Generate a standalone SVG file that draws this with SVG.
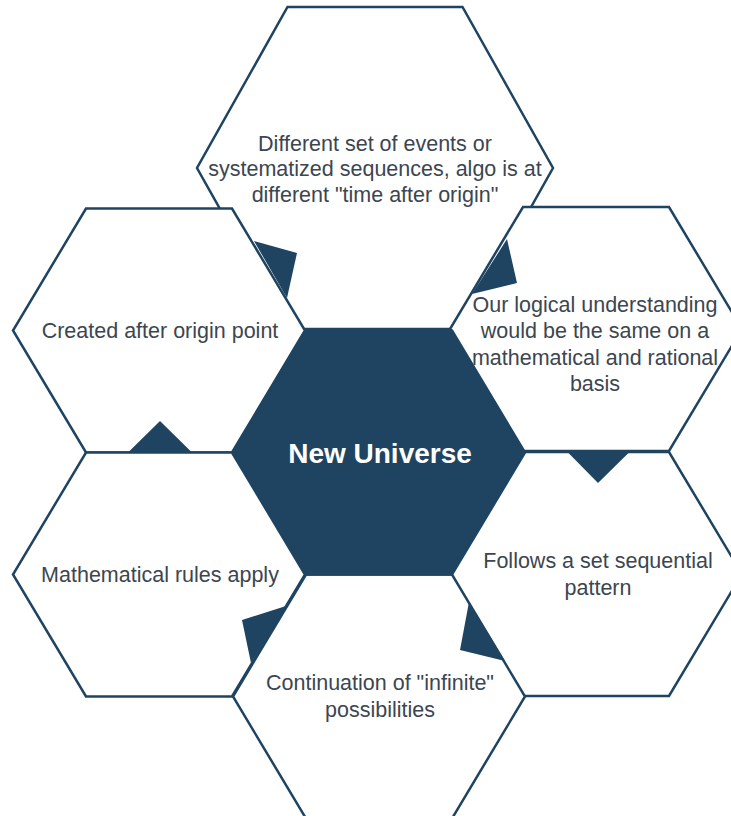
<svg xmlns="http://www.w3.org/2000/svg" width="731" height="816" viewBox="0 0 731 816">
<style>
.hex{fill:#ffffff;stroke:#1f4461;stroke-width:2.5;stroke-linejoin:miter}
.core{fill:#1f4461;stroke:#1f4461;stroke-width:2.5}
.t{font-family:"Liberation Sans",Arial,sans-serif;font-size:21.5px;fill:#3c4650;text-anchor:middle}
.ct{font-family:"Liberation Sans",Arial,sans-serif;font-size:28px;font-weight:bold;fill:#ffffff;text-anchor:middle}
.arr{fill:#1f4461;stroke:none}
</style>
<rect width="731" height="816" fill="#ffffff"/>
<g id="node-top">
<polygon class="hex" points="287.5,7 462.5,7 553,168 462.5,329 287.5,329 197,168"/>
<text class="t" x="375" y="150.5">Different set of events or</text>
<text class="t" x="375" y="176">systematized sequences, algo is at</text>
<text class="t" x="375" y="201.5">different "time after origin"</text>
</g>
<g id="node-upper-left">
<polygon class="hex" points="86,208.5 232,208.5 305,330.5 232,452.5 86,452.5 13,330.5"/>
<text class="t" x="160" y="338">Created after origin point</text>
</g>
<g id="node-upper-right">
<polygon class="hex" points="523,207 669,207 742,329 669,451 523,451 450,329"/>
<text class="t" x="595" y="311.5">Our logical understanding</text>
<text class="t" x="595" y="338">would be the same on a</text>
<text class="t" x="595" y="364.5">mathematical and rational</text>
<text class="t" x="595" y="390.5">basis</text>
</g>
<g id="node-lower-left">
<polygon class="hex" points="86,452.5 232,452.5 305,574.5 232,696.5 86,696.5 13,574.5"/>
<text class="t" x="160" y="582">Mathematical rules apply</text>
</g>
<g id="node-lower-right">
<polygon class="hex" points="523,452 669,452 742,574 669,696 523,696 450,574"/>
<text class="t" x="598" y="568">Follows a set sequential</text>
<text class="t" x="598" y="594.5">pattern</text>
</g>
<g id="node-bottom">
<polygon class="hex" points="306,574.5 452,574.5 525,696.5 452,818.5 306,818.5 233,696.5"/>
<text class="t" x="380" y="690">Continuation of "infinite"</text>
<text class="t" x="380" y="716.5">possibilities</text>
</g>
<g id="node-center">
<polygon class="core" points="306,330.5 452,330.5 525,452.5 452,574.5 306,574.5 233,452.5"/>
<text class="ct" x="380" y="462.5">New Universe</text>
</g>
<g id="connectors">
<polygon class="arr" points="254,241 297,253 287,298"/>
<polygon class="arr" points="507,239 517,283 472,294"/>
<polygon class="arr" points="128,452.5 160,421 192,452.5"/>
<polygon class="arr" points="567,451.5 630,451.5 598,483"/>
<polygon class="arr" points="242,620 286,606 251,663"/>
<polygon class="arr" points="469,602 460,650 505,661"/>
</g>
</svg>
